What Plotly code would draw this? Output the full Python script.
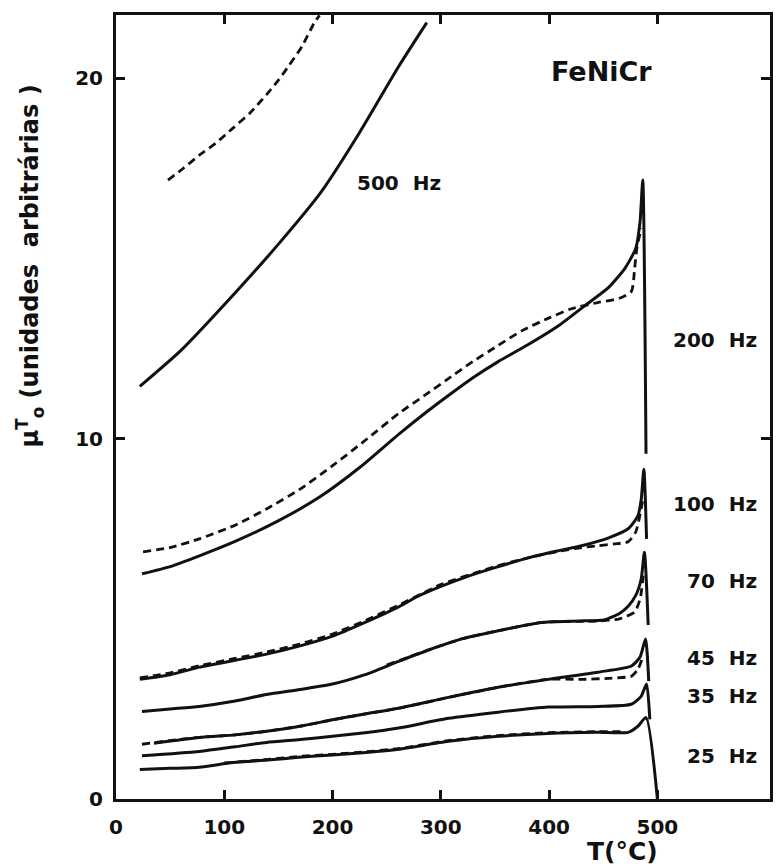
import plotly.graph_objects as go

# ---- data (T in °C, mu in arbitrary units) ----
t500_s = [22, 60, 108, 150, 189, 225, 261, 287]
m500_s = [11.45, 12.45, 13.98, 15.4, 16.83, 18.5, 20.33, 21.55]
t500_d = [48, 62, 77, 92, 108, 124, 139, 150, 160, 172, 183, 188]
m500_d = [17.18, 17.5, 17.87, 18.2, 18.62, 19.05, 19.55, 19.95, 20.37, 20.9, 21.54, 21.75]

t200_s = [24, 50, 77, 110, 148, 188, 225, 261, 285, 307, 330, 353, 380, 408, 436, 455, 470, 480, 484, 486.5, 489.5]
m200_s = [6.25, 6.45, 6.75, 7.15, 7.69, 8.38, 9.2, 10.12, 10.7, 11.2, 11.7, 12.14, 12.6, 13.12, 13.76, 14.2, 14.73, 15.28, 16.03, 17.18, 9.58]
t200_d = [25, 50, 77, 110, 139, 170, 200, 230, 261, 285, 307, 330, 353, 375, 399, 420, 445, 465, 476, 479, 481, 485]
m200_d = [6.86, 6.98, 7.22, 7.6, 8.05, 8.6, 9.25, 9.95, 10.7, 11.2, 11.67, 12.15, 12.59, 13.0, 13.34, 13.6, 13.78, 13.9, 14.09, 14.73, 15.28, 15.84]

t100_s = [22, 50, 77, 110, 139, 170, 200, 230, 261, 277, 300, 323, 350, 384, 410, 430, 455, 473, 482, 485, 487.5, 490]
m100_s = [3.32, 3.45, 3.66, 3.85, 4.02, 4.25, 4.52, 4.9, 5.33, 5.6, 5.9, 6.16, 6.42, 6.72, 6.9, 7.03, 7.25, 7.5, 7.86, 8.3, 9.15, 7.22]
t100_d = [22, 50, 77, 110, 139, 170, 200, 230, 261, 300, 350, 384, 410, 430, 445, 460, 473, 480, 485, 487]
m100_d = [3.36, 3.5, 3.7, 3.9, 4.08, 4.3, 4.58, 4.95, 5.38, 5.95, 6.45, 6.72, 6.88, 6.98, 7.03, 7.08, 7.14, 7.41, 8.05, 8.4]

t70_s = [24, 50, 77, 110, 139, 170, 200, 230, 261, 290, 320, 350, 393, 427, 451, 465, 473, 480, 485, 488, 491.5]
m70_s = [2.43, 2.5, 2.57, 2.72, 2.9, 3.04, 3.19, 3.45, 3.82, 4.15, 4.45, 4.65, 4.9, 4.94, 4.97, 5.15, 5.35, 5.65, 6.1, 6.85, 4.83]
t70_d = [250, 290, 320, 350, 393, 427, 445, 465, 479, 484, 487]
m70_d = [3.72, 4.15, 4.45, 4.65, 4.9, 4.93, 4.94, 5.0, 5.19, 5.55, 6.2]

t45_s = [35, 77, 110, 139, 170, 200, 230, 261, 307, 353, 399, 445, 476, 484, 489, 492]
m45_s = [1.55, 1.71, 1.78, 1.88, 2.02, 2.2, 2.36, 2.52, 2.82, 3.1, 3.32, 3.52, 3.69, 3.94, 4.44, 3.27]
t45_d = [24, 50, 77, 110, 139, 170, 200, 230, 261, 307, 353, 399, 430, 455, 476, 482, 486]
m45_d = [1.52, 1.62, 1.71, 1.78, 1.88, 2.02, 2.2, 2.36, 2.52, 2.82, 3.1, 3.32, 3.32, 3.35, 3.41, 3.6, 3.9]

t35_s = [24, 77, 110, 139, 170, 200, 230, 261, 307, 353, 399, 445, 476, 485, 490, 493]
m35_s = [1.2, 1.32, 1.45, 1.57, 1.65, 1.74, 1.84, 1.97, 2.24, 2.41, 2.55, 2.57, 2.63, 2.85, 3.19, 2.21]

t25_s = [22, 50, 77, 108, 140, 169, 200, 231, 261, 307, 353, 399, 445, 473, 482, 489.5, 500]
m25_s = [0.82, 0.85, 0.88, 1.01, 1.08, 1.16, 1.22, 1.29, 1.38, 1.6, 1.74, 1.82, 1.85, 1.85, 2.02, 2.26, 0.0]
t25_d = [100, 140, 169, 200, 231, 261, 307, 353, 399, 445, 470]
m25_d = [1.0, 1.1, 1.18, 1.24, 1.31, 1.4, 1.62, 1.76, 1.84, 1.87, 1.87]

freq_labels = ["500\u00a0\u00a0Hz", "200\u00a0\u00a0Hz", "100\u00a0\u00a0Hz", "70\u00a0\u00a0Hz",
               "45\u00a0\u00a0Hz", "35\u00a0\u00a0Hz", "25\u00a0\u00a0Hz"]
label_T = [261, 594, 594, 594, 594, 594, 594]
label_mu = [17.1, 12.75, 8.2, 6.05, 3.9, 2.85, 1.2]

x_ticks = [0, 100, 200, 300, 400, 500]
y_ticks = [0, 10, 20]

FONT = "DejaVu Sans"
INK = "#111111"

fig = go.Figure()

solid = [(t500_s, m500_s), (t200_s, m200_s), (t100_s, m100_s), (t70_s, m70_s),
         (t45_s, m45_s), (t35_s, m35_s), (t25_s, m25_s)]
dashed = [(t500_d, m500_d), (t200_d, m200_d), (t100_d, m100_d), (t70_d, m70_d),
          (t45_d, m45_d), (t25_d, m25_d)]

for tx, my in dashed:
    fig.add_trace(go.Scatter(x=tx, y=my, mode="lines",
                             line=dict(color=INK, width=2.8, dash="8px,5px",
                                       shape="spline", smoothing=0.6),
                             hoverinfo="skip"))
for tx, my in solid:
    fig.add_trace(go.Scatter(x=tx, y=my, mode="lines",
                             line=dict(color=INK, width=3, shape="spline", smoothing=0.6),
                             hoverinfo="skip"))

for i, (txt, tx, my) in enumerate(zip(freq_labels, label_T, label_mu)):
    fig.add_annotation(x=tx, y=my, xref="x", yref="y", text=txt, showarrow=False,
                       xanchor="center" if i == 0 else "right", yanchor="middle",
                       font=dict(family=FONT, size=20, color=INK, weight="bold"))

fig.add_annotation(x=448, y=20.2, xref="x", yref="y", text="FeNiCr", showarrow=False,
                   xanchor="center", yanchor="middle",
                   font=dict(family=FONT, size=27, color=INK, weight="bold"))

fig.add_annotation(x=(625 - 116) / 657, y=(799 - 851) / 784, xref="paper", yref="paper",
                   text="T(°C)", showarrow=False, xanchor="center", yanchor="middle",
                   font=dict(family=FONT, size=25, color=INK, weight="bold"))

fig.add_annotation(x=(29 - 116) / 657, y=(799 - 266) / 784, xref="paper", yref="paper",
                   text="μ<sup>T</sup><sub>o</sub> (unidades  arbitrárias )", showarrow=False,
                   textangle=-90, xanchor="center", yanchor="middle",
                   font=dict(family=FONT, size=24, color=INK, weight="bold"))

axis_common = dict(showline=True, linewidth=3, linecolor=INK, mirror="ticks",
                   ticks="inside", ticklen=9, tickwidth=2.5, tickcolor=INK,
                   showgrid=False, zeroline=False,
                   tickfont=dict(family=FONT, size=20, color=INK, weight="bold"))

fig.update_xaxes(range=[0, 604], tickvals=x_ticks, ticktext=[str(v) for v in x_ticks],
                 ticklabelstandoff=8, **axis_common)
fig.update_yaxes(range=[0, 21.76], tickvals=y_ticks, ticktext=[str(v) for v in y_ticks],
                 ticklabelstandoff=6, **axis_common)

fig.update_layout(width=778, height=868, margin=dict(l=116, r=5, t=15, b=69),
                  paper_bgcolor="white", plot_bgcolor="white", showlegend=False)

fig.write_html("out.html", config={"displayModeBar": False},
               post_script="document.body.style.margin='0';document.body.style.overflow='hidden';")
